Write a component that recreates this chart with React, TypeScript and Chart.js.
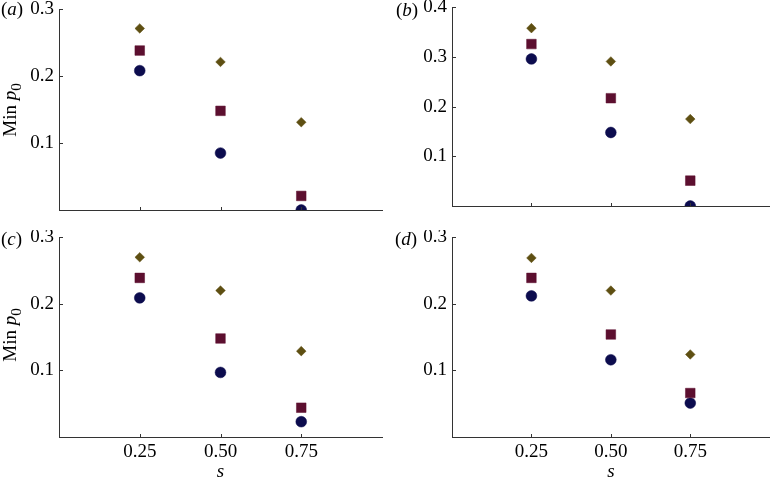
import React, { useEffect, useRef } from 'react';
import { Chart, registerables } from 'chart.js';

Chart.register(...registerables);

// ---- data ----
const S_VALUES = [0.25, 0.5, 0.75];
const X_TICKS = [0.25, 0.5, 0.75];
const X_TICK_LABELS = ['0.25', '0.50', '0.75'];
const X_TITLE = 's';
const Y_TITLE_MAIN = 'Min ';
const Y_TITLE_VAR = 'p';
const Y_TITLE_SUB = '0';

const A_DIAMOND = [0.271, 0.221, 0.131];
const A_SQUARE = [0.238, 0.148, 0.021];
const A_CIRCLE = [0.208, 0.085, 0.0];

const B_DIAMOND = [0.358, 0.291, 0.175];
const B_SQUARE = [0.326, 0.217, 0.051];
const B_CIRCLE = [0.296, 0.148, 0.0];

const C_DIAMOND = [0.27, 0.22, 0.129];
const C_SQUARE = [0.239, 0.148, 0.044];
const C_CIRCLE = [0.209, 0.097, 0.023];

const D_DIAMOND = [0.269, 0.22, 0.124];
const D_SQUARE = [0.239, 0.154, 0.066];
const D_CIRCLE = [0.212, 0.116, 0.051];

const Y_TICKS_03 = [0.1, 0.2, 0.3];
const Y_TICKS_04 = [0.1, 0.2, 0.3, 0.4];
const PANEL_LETTERS = ['a', 'b', 'c', 'd'];

// ---- style ----
const FONT_FAMILY = "'Liberation Serif', 'Times New Roman', serif";
const FONT_SIZE = 19;
const OLIVE = '#5e4f12';
const MAROON = '#5c0f2f';
const NAVY = '#0c0c4e';
const AXIS = '#333333';
const TEXT = '#000000';

type PanelCfg = {
  letter: string;
  left: number;
  top: number;
  width: number;
  height: number;
  yWidth: number;
  xHeight: number;
  padTop: number;
  padRight: number;
  yMax: number;
  yTicks: number[];
  showX: boolean;
  diamond: number[];
  square: number[];
  circle: number[];
  labelLeft: number;
  labelTop: number;
  yTitle: null | { cx: number; cy: number };
};

const PANELS: PanelCfg[] = [
  {
    letter: PANEL_LETTERS[0], left: 0, top: 0, width: 390, height: 230,
    yWidth: 59, xHeight: 20, padTop: 9, padRight: 8, yMax: 0.3, yTicks: Y_TICKS_03, showX: false,
    diamond: A_DIAMOND, square: A_SQUARE, circle: A_CIRCLE,
    labelLeft: 1, labelTop: -1, yTitle: { cx: 10, cy: 110 },
  },
  {
    letter: PANEL_LETTERS[1], left: 390, top: 0, width: 387, height: 230,
    yWidth: 62, xHeight: 24, padTop: 6, padRight: 0, yMax: 0.4, yTicks: Y_TICKS_04, showX: false,
    diamond: B_DIAMOND, square: B_SQUARE, circle: B_CIRCLE,
    labelLeft: 396, labelTop: 0, yTitle: null,
  },
  {
    letter: PANEL_LETTERS[2], left: 0, top: 230, width: 390, height: 251,
    yWidth: 59, xHeight: 44, padTop: 7, padRight: 8, yMax: 0.3, yTicks: Y_TICKS_03, showX: true,
    diamond: C_DIAMOND, square: C_SQUARE, circle: C_CIRCLE,
    labelLeft: 1, labelTop: 229, yTitle: { cx: 10, cy: 335 },
  },
  {
    letter: PANEL_LETTERS[3], left: 390, top: 230, width: 387, height: 251,
    yWidth: 62, xHeight: 44, padTop: 7, padRight: 0, yMax: 0.3, yTicks: Y_TICKS_03, showX: true,
    diamond: D_DIAMOND, square: D_SQUARE, circle: D_CIRCLE,
    labelLeft: 395, labelTop: 229, yTitle: null,
  },
];

const inwardTicks = {
  id: 'inwardTicks',
  afterDatasetsDraw(chart: any) {
    const { ctx, chartArea, scales } = chart;
    ctx.save();
    ctx.strokeStyle = AXIS;
    ctx.lineWidth = 1;
    scales.x.ticks.forEach((t: any) => {
      const px = Math.round(scales.x.getPixelForValue(t.value)) + 0.5;
      ctx.beginPath();
      ctx.moveTo(px, chartArea.bottom + 1);
      ctx.lineTo(px, chartArea.bottom - 3);
      ctx.stroke();
    });
    scales.y.ticks.forEach((t: any) => {
      const py = Math.round(scales.y.getPixelForValue(t.value)) + 0.5;
      ctx.beginPath();
      ctx.moveTo(chartArea.left, py);
      ctx.lineTo(chartArea.left + 4, py);
      ctx.stroke();
    });
    ctx.restore();
  },
};

function toPoints(values: number[]) {
  return S_VALUES.map((x, i) => ({ x, y: values[i] }));
}

function Panel({ cfg }: { cfg: PanelCfg }) {
  const ref = useRef<HTMLCanvasElement>(null);
  useEffect(() => {
    const font = { family: FONT_FAMILY, size: FONT_SIZE };
    const chart = new Chart(ref.current as HTMLCanvasElement, {
      type: 'scatter',
      data: {
        datasets: [
          {
            data: toPoints(cfg.diamond),
            pointStyle: 'rectRot',
            pointRadius: 4.8,
            pointBackgroundColor: OLIVE,
            pointBorderColor: OLIVE,
            pointBorderWidth: 0.5,
            clip: 0,
          },
          {
            data: toPoints(cfg.square),
            pointStyle: 'rect',
            pointRadius: 6.8,
            pointBackgroundColor: MAROON,
            pointBorderColor: MAROON,
            pointBorderWidth: 0.5,
            clip: 0,
          },
          {
            data: toPoints(cfg.circle),
            pointStyle: 'circle',
            pointRadius: 5.4,
            pointBackgroundColor: NAVY,
            pointBorderColor: NAVY,
            pointBorderWidth: 0.5,
            clip: 0,
          },
        ] as any,
      },
      options: {
        responsive: false,
        animation: false,
        devicePixelRatio: 1,
        events: [],
        layout: { padding: { top: cfg.padTop, right: cfg.padRight, bottom: 0, left: 0 } },
        plugins: { legend: { display: false }, tooltip: { enabled: false } },
        scales: {
          x: {
            type: 'linear',
            min: 0,
            max: 1,
            grid: { display: false, drawTicks: false },
            border: { display: true, color: AXIS, width: 1, z: 1 } as any,
            afterBuildTicks: (s: any) => {
              s.ticks = X_TICKS.map((v) => ({ value: v }));
            },
            ticks: {
              display: cfg.showX,
              padding: 4,
              color: TEXT,
              font,
              maxRotation: 0,
              autoSkip: false,
              callback: (v: any) => {
                const i = X_TICKS.indexOf(Number(v));
                return i >= 0 ? X_TICK_LABELS[i] : '';
              },
            },
            title: {
              display: cfg.showX,
              text: X_TITLE,
              color: TEXT,
              font: { family: FONT_FAMILY, size: FONT_SIZE, style: 'italic' },
              padding: { top: 0, bottom: -2 },
            },
            afterFit: (s: any) => {
              s.height = cfg.xHeight;
              s.paddingLeft = 0;
              s.paddingRight = 0;
            },
          },
          y: {
            type: 'linear',
            min: 0,
            max: cfg.yMax,
            grid: { display: false, drawTicks: false },
            border: { display: true, color: AXIS, width: 1, z: 1 } as any,
            afterBuildTicks: (s: any) => {
              s.ticks = cfg.yTicks.map((v) => ({ value: v }));
            },
            ticks: {
              padding: 5,
              color: TEXT,
              font,
              autoSkip: false,
              callback: (v: any) => Number(v).toFixed(1),
            },
            afterFit: (s: any) => {
              s.width = cfg.yWidth;
              s.paddingTop = 0;
              s.paddingBottom = 0;
            },
          },
        },
      } as any,
      plugins: [inwardTicks],
    });
    return () => chart.destroy();
  }, []);
  return (
    <canvas
      ref={ref}
      width={cfg.width}
      height={cfg.height}
      style={{ position: 'absolute', left: cfg.left, top: cfg.top, width: cfg.width, height: cfg.height }}
    />
  );
}

export default function App() {
  const textStyle: React.CSSProperties = {
    position: 'absolute',
    fontFamily: FONT_FAMILY,
    fontSize: FONT_SIZE,
    lineHeight: '20px',
    color: TEXT,
    whiteSpace: 'nowrap',
  };
  return (
    <div
      style={{
        position: 'absolute',
        left: 0,
        top: 0,
        width: 777,
        height: 481,
        background: '#ffffff',
        overflow: 'hidden',
      }}
    >
      {PANELS.map((p) => (
        <Panel key={p.letter} cfg={p} />
      ))}
      {PANELS.map((p) => (
        <div key={'l' + p.letter} style={{ ...textStyle, left: p.labelLeft, top: p.labelTop, height: 20 }}>
          (<i>{p.letter}</i>)
        </div>
      ))}
      {PANELS.filter((p) => p.yTitle).map((p) => (
        <div
          key={'t' + p.letter}
          style={{
            ...textStyle,
            left: (p.yTitle as any).cx - 50,
            top: (p.yTitle as any).cy - 10,
            width: 100,
            height: 20,
            textAlign: 'center',
            transform: 'rotate(-90deg)',
          }}
        >
          {Y_TITLE_MAIN}
          <i>{Y_TITLE_VAR}</i>
          <sub style={{ fontSize: '0.8em', lineHeight: 0, verticalAlign: '-0.3em' }}>{Y_TITLE_SUB}</sub>
        </div>
      ))}
    </div>
  );
}
